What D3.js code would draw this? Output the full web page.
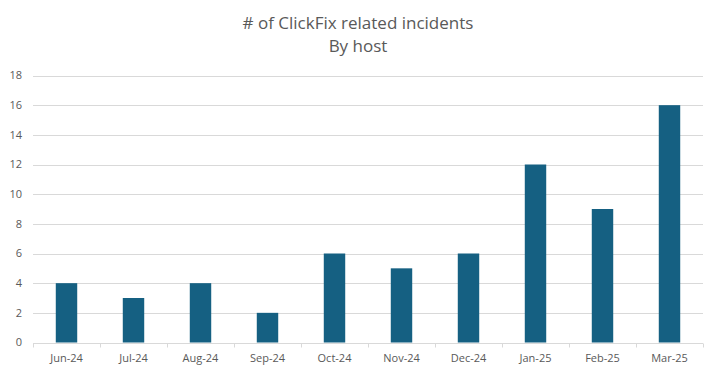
<!DOCTYPE html>
<html>
<head>
<meta charset="utf-8">
<script src="https://cdn.jsdelivr.net/npm/d3@7"></script>
<style>
	body { margin: 0; background: #fff; }
	svg { display: block; font-family: "Open Sans", "Noto Sans", sans-serif; }
	.title { fill: #595959; font-size: 17px; }
	.tick-label { fill: #595959; font-size: 11px; }
</style>
</head>
<body>
<svg id="chart" width="715" height="375"></svg>
<script>
var months = ["Jun-24", "Jul-24", "Aug-24", "Sep-24", "Oct-24", "Nov-24", "Dec-24", "Jan-25", "Feb-25", "Mar-25"];
var incidents = [4, 3, 4, 2, 6, 5, 6, 12, 9, 16];
var yTicks = [0, 2, 4, 6, 8, 10, 12, 14, 16, 18];
var titleLines = ["# of ClickFix related incidents", "By host"];

var width = 715, height = 375;
var margin = {top: 75.5, right: 12, bottom: 32.5, left: 33};

var svg = d3.select("#chart");

//Scales
var x = d3.scaleBand()
	.domain(months)
	.range([margin.left, width - margin.right])
	.paddingInner(0.68)
	.paddingOuter(0.34);

var band = d3.scaleBand()
	.domain(months)
	.range([margin.left, width - margin.right]);

var y = d3.scaleLinear()
	.domain([0, 18])
	.range([height - margin.bottom, margin.top]);

//Gridlines
svg.append("g")
	.selectAll("line")
	.data(yTicks.filter(function(d){ return d > 0; }))
	.enter().append("line")
	.attr("x1", margin.left)
	.attr("x2", width - margin.right)
	.attr("y1", function(d){ return Math.round(y(d)) + 0.5; })
	.attr("y2", function(d){ return Math.round(y(d)) + 0.5; })
	.attr("stroke", "#d9d9d9")
	.attr("stroke-width", 1);

//Y labels
svg.append("g")
	.selectAll("text")
	.data(yTicks)
	.enter().append("text")
	.attr("class", "tick-label")
	.attr("x", 22)
	.attr("y", function(d){ return y(d); })
	.attr("dy", "0.35em")
	.attr("text-anchor", "end")
	.text(function(d){ return d; });

//Bars
svg.append("g")
	.selectAll("rect")
	.data(incidents)
	.enter().append("rect")
	.attr("x", function(d, i){ return x(months[i]); })
	.attr("width", x.bandwidth())
	.attr("y", function(d){ return y(d); })
	.attr("height", function(d){ return y(0) - y(d); })
	.attr("fill", "#156082");

//X axis line and ticks
var base = Math.round(y(0)) + 0.5;
svg.append("line")
	.attr("x1", margin.left)
	.attr("x2", width - margin.right)
	.attr("y1", base)
	.attr("y2", base)
	.attr("stroke", "#d9d9d9");

var tickPos = months.map(function(m){ return band(m); }).concat([width - margin.right]);
svg.append("g")
	.selectAll("line")
	.data(tickPos)
	.enter().append("line")
	.attr("x1", function(d){ return Math.round(d) + 0.5; })
	.attr("x2", function(d){ return Math.round(d) + 0.5; })
	.attr("y1", base)
	.attr("y2", base + 4)
	.attr("stroke", "#d9d9d9");

//X labels
svg.append("g")
	.selectAll("text")
	.data(months)
	.enter().append("text")
	.attr("class", "tick-label")
	.attr("x", function(d){ return band(d) + band.bandwidth() / 2; })
	.attr("y", 362)
	.attr("text-anchor", "middle")
	.text(function(d){ return d; });

//Title
svg.append("text")
	.attr("class", "title")
	.attr("text-anchor", "middle")
	.selectAll("tspan")
	.data(titleLines)
	.enter().append("tspan")
	.attr("x", 358)
	.attr("y", function(d, i){ return 29 + i * 23; })
	.text(function(d){ return d; });
</script>
</body>
</html>
